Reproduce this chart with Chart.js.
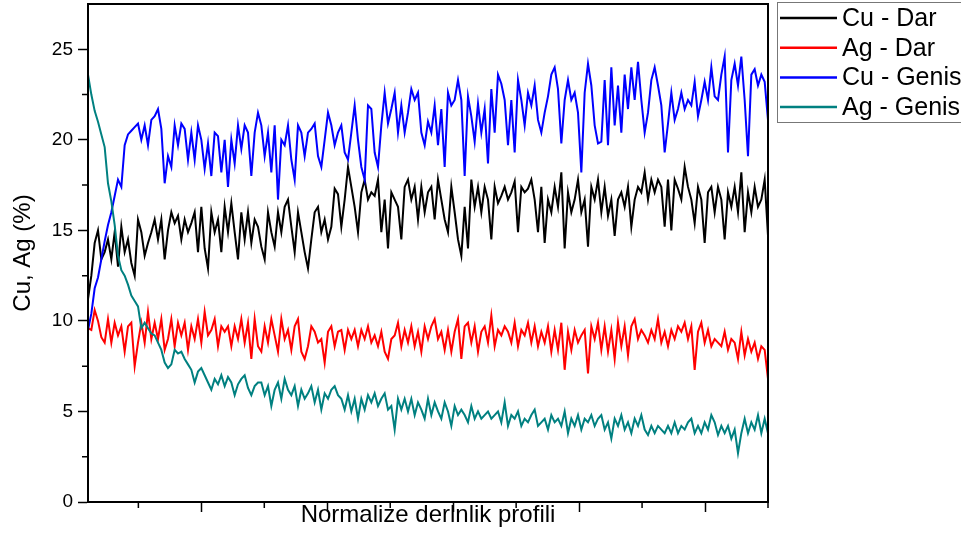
<!DOCTYPE html>
<html>
<head>
<meta charset="utf-8">
<script src="https://cdn.jsdelivr.net/npm/chart.js@4.4.0/dist/chart.umd.min.js"></script>
<style>
  html, body { margin: 0; padding: 0; background: #fff; overflow: hidden; }
  #wrap { width: 961px; height: 533px; position: relative; }
</style>
</head>
<body>
<div id="wrap"><canvas id="chart"></canvas></div>
<script>
// 205 evenly spaced samples along the profile (10 .. 550)
const depth = Array.from({ length: 205 }, (_, i) => 10 + i * 540 / 204);

const cuDar = [
  11.2, 12.5, 14.3, 15.0, 13.4, 13.8, 14.5, 13.4, 14.9, 13.0, 15.2, 13.8, 14.5, 13.2, 12.5, 15.6, 14.9, 13.6,
  14.3, 14.9, 15.6, 14.5, 15.6, 13.4, 15.0, 16.0, 15.4, 15.8, 14.5, 15.6, 14.9, 15.4, 16.0, 13.8, 16.3, 14.0,
  12.9, 16.0, 14.9, 15.6, 13.8, 16.3, 14.9, 16.5, 14.9, 13.4, 16.0, 14.5, 16.0, 14.3, 15.6, 15.2,
  14.1, 13.4, 16.0, 14.9, 14.1, 16.0, 14.9, 16.3, 16.7, 15.2, 13.8, 16.0, 14.9, 13.8, 12.9, 14.5, 16.0,
  16.3, 14.9, 15.6, 14.5, 15.2, 17.3, 17.0, 15.2, 16.7, 18.5, 17.4, 16.3, 14.9, 17.1, 17.8, 16.7, 17.1,
  16.9, 17.8, 14.9, 16.7, 14.0, 17.1, 16.7, 16.3, 14.5, 17.4, 17.8, 16.7, 17.4, 15.6, 17.4, 16.0, 17.1,
  17.4, 15.6, 17.8, 16.7, 15.6, 14.9, 17.4, 16.0, 14.5, 13.6, 16.3, 14.0, 17.8, 16.3, 17.4, 16.0, 17.4,
  16.7, 14.5, 17.4, 16.5, 16.9, 17.4, 16.7, 17.1, 17.7, 14.9, 17.4, 17.1, 17.3, 17.8, 16.7, 14.9, 17.4,
  14.3, 16.7, 16.0, 17.4, 16.3, 18.2, 14.0, 17.1, 16.0, 16.7, 17.8, 16.0, 16.7, 14.1, 17.4, 16.7, 17.8,
  16.0, 17.4, 15.8, 16.7, 14.7, 16.7, 17.1, 16.3, 17.4, 15.2, 16.7, 17.4, 17.1, 18.2, 16.7, 17.8, 17.1,
  17.8, 17.4, 15.2, 17.8, 15.0, 17.8, 17.3, 16.7, 18.5, 17.4, 16.7, 15.4, 17.4, 16.7, 14.3, 17.1, 17.4,
  16.0, 17.4, 16.7, 14.5, 17.1, 16.3, 17.4, 16.0, 18.2, 14.9, 17.1, 16.0, 17.4, 16.3, 16.7, 17.8, 14.7
];

const agDar = [
  9.6, 9.5, 10.6, 10.0, 9.1, 8.8, 10.1, 8.8, 9.9, 9.2, 9.7, 8.3, 9.7, 9.9, 7.5, 8.8, 9.9, 8.8,
  10.5, 9.0, 9.9, 9.0, 10.1, 8.4, 9.0, 10.1, 8.6, 9.9, 9.2, 9.9, 8.4, 9.7, 9.0, 10.1, 8.8, 10.5,
  9.2, 9.5, 10.1, 8.6, 9.7, 9.4, 9.7, 8.6, 9.7, 9.0, 10.1, 8.8, 9.9, 7.9, 10.1, 8.6,
  8.3, 9.7, 8.8, 10.1, 9.2, 8.3, 10.1, 9.0, 9.5, 8.4, 9.7, 10.1, 8.3, 7.9, 8.6, 9.7, 9.4,
  8.8, 9.0, 7.7, 9.4, 9.7, 8.6, 9.4, 9.5, 8.4, 9.5, 9.0, 9.5, 8.6, 9.5, 9.0, 9.7, 8.8,
  9.2, 8.6, 9.4, 8.3, 7.9, 9.0, 9.2, 9.9, 8.6, 9.5, 8.8, 9.7, 8.6, 9.4, 8.3, 9.7, 9.0,
  9.7, 10.1, 9.0, 9.4, 8.4, 9.5, 8.3, 9.4, 10.1, 7.9, 9.7, 9.9, 8.8, 9.7, 8.3, 9.4, 9.7,
  8.8, 10.3, 8.6, 9.5, 9.2, 9.7, 9.4, 8.8, 9.9, 8.6, 9.5, 9.2, 9.9, 8.8, 9.7, 8.6, 9.4,
  8.8, 9.7, 8.3, 9.5, 8.4, 9.9, 7.3, 9.4, 8.4, 9.5, 8.8, 9.2, 9.5, 7.1, 9.7, 9.0, 9.9,
  8.4, 9.7, 8.3, 9.5, 7.9, 9.9, 8.6, 9.7, 8.1, 9.7, 10.1, 9.0, 9.5, 9.2, 8.8, 9.5, 9.0,
  10.1, 8.8, 9.4, 8.6, 9.5, 9.0, 9.7, 9.4, 9.9, 9.0, 9.7, 7.3, 9.4, 9.9, 8.8, 9.5, 8.6,
  9.0, 8.8, 8.6, 9.4, 8.4, 9.0, 8.8, 7.9, 9.4, 8.1, 9.0, 8.3, 8.8, 7.9, 8.6, 8.4, 6.8
];

const cuGenis = [
  9.5, 10.4, 11.8, 12.4, 13.4, 14.4, 15.3, 16.0, 16.9, 17.8, 17.4, 19.7, 20.3, 20.5, 20.7, 20.9, 20.0, 20.8,
  19.7, 21.1, 21.3, 21.7, 20.6, 17.6, 19.1, 18.5, 20.8, 19.7, 20.9, 20.6, 18.9, 20.4, 18.9, 20.8, 20.0, 18.4,
  19.8, 18.0, 20.4, 20.2, 18.2, 20.0, 17.4, 20.0, 18.7, 20.8, 19.5, 20.8, 20.4, 18.0, 20.4, 21.5,
  20.8, 19.1, 20.4, 18.2, 20.8, 16.7, 20.0, 19.7, 20.8, 18.9, 17.8, 20.8, 20.4, 19.1, 20.4, 20.6, 20.9,
  19.1, 18.5, 20.0, 21.5, 20.8, 19.7, 20.4, 20.8, 19.3, 18.9, 20.4, 21.9, 20.0, 18.5, 17.8, 21.9, 21.7,
  19.3, 18.5, 20.8, 22.6, 20.9, 21.7, 22.6, 20.4, 21.9, 20.4, 21.5, 22.8, 22.2, 22.6, 20.4, 19.7, 21.0,
  20.4, 21.9, 19.7, 21.7, 18.5, 22.6, 21.9, 22.2, 23.3, 22.2, 18.0, 22.4, 21.3, 19.9, 22.0, 20.4, 21.7,
  18.7, 22.8, 20.4, 23.6, 23.1, 22.2, 19.7, 22.2, 19.3, 23.3, 22.2, 20.8, 22.6, 21.9, 23.0, 21.1, 20.4,
  21.5, 22.4, 23.6, 24.0, 22.8, 19.8, 22.2, 23.3, 22.2, 22.6, 21.5, 18.2, 22.6, 24.2, 23.0, 20.8, 19.8,
  19.9, 23.3, 19.7, 24.0, 20.8, 23.0, 20.4, 23.6, 21.7, 24.0, 22.2, 24.3, 22.2, 20.4, 21.5, 23.3, 24.0,
  23.0, 21.9, 19.3, 20.9, 22.6, 21.1, 21.7, 22.6, 21.7, 22.2, 21.9, 23.2, 21.3, 22.2, 23.2, 22.2, 24.0,
  22.4, 22.2, 23.6, 24.6, 19.3, 23.3, 24.2, 23.0, 24.6, 22.2, 19.1, 23.6, 23.9, 23.0, 23.6, 23.2, 21.1
];

const agGenis = [
  23.6, 22.5, 21.6, 21.0, 20.3, 19.6, 17.6, 16.6, 15.3, 13.6, 12.8, 12.5, 12.0, 11.4, 11.1, 10.8, 9.6, 9.9,
  9.6, 9.3, 9.2, 8.8, 8.4, 7.7, 7.4, 7.6, 8.4, 8.2, 8.3, 7.9, 7.6, 7.3, 6.6, 7.2, 7.4, 7.0,
  6.6, 6.2, 6.8, 6.5, 7.0, 6.4, 6.9, 6.6, 5.9, 6.5, 6.8, 7.0, 6.3, 5.9, 6.4, 6.6,
  6.6, 5.9, 6.4, 5.3, 6.2, 6.6, 5.7, 6.8, 6.2, 5.9, 6.4, 5.3, 6.2, 5.7, 6.0, 6.4, 5.5,
  6.2, 5.1, 6.0, 5.7, 6.2, 6.4, 5.9, 5.7, 5.1, 5.9, 5.0, 5.7, 4.6, 5.7, 5.1, 5.9, 5.5,
  6.0, 5.3, 5.7, 6.0, 5.1, 5.3, 4.0, 5.7, 5.1, 5.7, 5.0, 5.7, 4.8, 5.5, 5.1, 4.6, 5.7,
  4.8, 5.5, 5.0, 4.6, 5.5, 5.0, 4.2, 5.3, 4.8, 5.1, 4.8, 4.4, 5.3, 4.6, 5.0, 4.6, 4.8,
  5.0, 4.6, 4.8, 5.0, 4.4, 5.5, 4.2, 4.8, 4.6, 5.0, 4.2, 4.6, 4.4, 4.8, 5.1, 4.2, 4.4,
  4.6, 4.0, 4.8, 4.4, 4.6, 4.2, 5.0, 3.8, 4.6, 4.2, 4.8, 4.0, 4.6, 4.4, 4.8, 4.2, 4.6,
  4.8, 4.0, 4.4, 3.5, 4.6, 4.2, 4.8, 4.0, 4.4, 3.8, 4.6, 4.2, 4.8, 4.0, 3.7, 4.2, 3.8,
  4.2, 4.0, 3.8, 4.2, 3.8, 4.4, 3.8, 4.2, 4.0, 4.4, 4.6, 3.8, 4.2, 3.8, 4.4, 4.0, 4.8,
  4.4, 3.7, 4.2, 3.8, 4.2, 3.5, 4.0, 2.7, 3.8, 4.6, 3.8, 4.4, 4.0, 4.8, 3.8, 4.6, 3.8
];

const yTicks = [0, 5, 10, 15, 20, 25];
const yMinor = [2.5, 7.5, 12.5, 17.5, 22.5];
const xMajor = [100, 200, 300, 400, 500];
const xMinor = [50, 150, 250, 350, 450, 550];

const FONT = '"Liberation Sans", Arial, sans-serif';
Chart.defaults.font.family = FONT;
Chart.defaults.color = '#000';

const toPoints = (vals) => vals.map((v, i) => ({ x: depth[i], y: v }));

const series = [
  { label: 'Cu - Dar', data: cuDar, color: '#000000', order: 4 },
  { label: 'Ag - Dar', data: agDar, color: '#ff0000', order: 3 },
  { label: 'Cu - Genis', data: cuGenis, color: '#0000ff', order: 2 },
  { label: 'Ag - Genis', data: agGenis, color: '#008080', order: 1 },
];

// box around the plot, minor tick marks and the legend panel
const extras = {
  id: 'extras',
  afterDraw(chart) {
    const { ctx, chartArea: a, scales } = chart;
    ctx.save();
    ctx.strokeStyle = '#000';
    ctx.lineWidth = 2;
    ctx.strokeRect(a.left, a.top, a.right - a.left, a.bottom - a.top);

    ctx.lineWidth = 1.5;
    ctx.beginPath();
    xMinor.forEach((v) => {
      const x = scales.x.getPixelForValue(v);
      ctx.moveTo(x, a.bottom);
      ctx.lineTo(x, a.bottom + 6);
    });
    yMinor.forEach((v) => {
      const y = scales.y.getPixelForValue(v);
      ctx.moveTo(a.left, y);
      ctx.lineTo(a.left - 6, y);
    });
    ctx.stroke();

    // legend
    ctx.strokeStyle = '#777';
    ctx.lineWidth = 1;
    ctx.strokeRect(777.5, 2.5, 200, 120);
    ctx.font = '25px ' + FONT;
    ctx.textBaseline = 'middle';
    chart.data.datasets.forEach((ds, i) => {
      const y = 18 + i * 29.7;
      ctx.strokeStyle = ds.borderColor;
      ctx.lineWidth = 2.5;
      ctx.beginPath();
      ctx.moveTo(780, y);
      ctx.lineTo(837, y);
      ctx.stroke();
      ctx.fillStyle = '#000';
      ctx.fillText(ds.label, 842, y + 1);
    });
    ctx.restore();
  }
};

new Chart(document.getElementById('chart'), {
  type: 'line',
  data: {
    datasets: series.map((s) => ({
      label: s.label,
      data: toPoints(s.data),
      borderColor: s.color,
      backgroundColor: s.color,
      borderWidth: 2,
      pointRadius: 0,
      tension: 0,
      order: s.order,
    })),
  },
  options: {
    responsive: true,
    maintainAspectRatio: false,
    animation: false,
    devicePixelRatio: 1,
    layout: { padding: { top: 4, right: 193, bottom: 0, left: 0 } },
    plugins: { legend: { display: false }, tooltip: { enabled: false } },
    scales: {
      x: {
        type: 'linear',
        min: 10,
        max: 550,
        afterBuildTicks: (s) => { s.ticks = xMajor.map((v) => ({ value: v })); },
        afterFit: (s) => { s.height = 31; s.paddingLeft = 0; s.paddingRight = 0; },
        ticks: { display: false },
        grid: { drawOnChartArea: false, drawTicks: true, tickLength: 10, tickColor: '#000', tickWidth: 1.5 },
        border: { color: '#000', width: 2 },
        title: {
          display: true,
          text: 'Normalize derlnlik profili',
          font: { size: 24 },
          color: '#000',
          padding: { top: 0, bottom: 3 },
        },
      },
      y: {
        min: 0,
        max: 27.5,
        afterBuildTicks: (s) => { s.ticks = yTicks.map((v) => ({ value: v })); },
        afterFit: (s) => { s.width = 88; s.paddingTop = 0; s.paddingBottom = 0; },
        ticks: { font: { size: 19 }, color: '#000', padding: 5 },
        grid: { drawOnChartArea: false, drawTicks: true, tickLength: 10, tickColor: '#000', tickWidth: 1.5 },
        border: { color: '#000', width: 2 },
        title: {
          display: true,
          text: 'Cu, Ag (%)',
          font: { size: 24 },
          color: '#000',
          padding: { top: 9, bottom: 0 },
        },
      },
    },
  },
  plugins: [extras],
});
</script>
</body>
</html>
